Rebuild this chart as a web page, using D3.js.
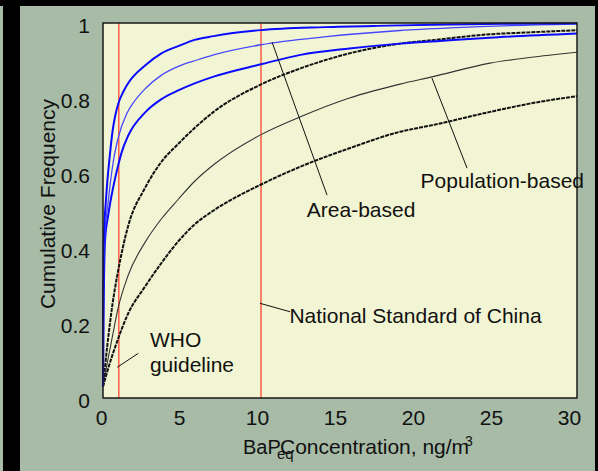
<!DOCTYPE html>
<meta charset="utf-8">
<style>
body { margin: 0; }
text { font-family: "Liberation Sans", Arial, sans-serif; fill: #111; }
.axis path { display: none; }
</style>
<svg width="598" height="471"></svg>
<script src="https://d3js.org/d3.v7.min.js"></script>
<script>

// cumulative frequency curves, [BaPeq ng/m3, fraction]
var areaHigh = [[0,0.03],[0.02,0.3],[0.05,0.42],[0.19,0.53],[0.44,0.65],[0.6,0.71],[0.76,0.75],[0.97,0.785],[1.3,0.818],[1.6,0.84],[2.7,0.888],[3.7,0.919],[4.8,0.939],[5.8,0.955],[7,0.965],[10,0.981],[14,0.989],[18,0.993],[22,0.996],[26,0.998],[30,0.999]];
var areaMid = [[0,0.03],[0.03,0.3],[0.1,0.42],[0.34,0.528],[0.65,0.63],[0.97,0.695],[1.5,0.758],[2,0.792],[2.7,0.826],[3.7,0.861],[4.8,0.885],[6,0.902],[7,0.915],[10,0.942],[14,0.963],[18.8,0.98],[22,0.987],[27.5,0.995],[30,0.997]];
var areaLow = [[0,0.03],[0.03,0.2],[0.13,0.42],[0.34,0.49],[0.65,0.563],[0.97,0.622],[1.18,0.655],[1.6,0.7],[2.7,0.763],[3.7,0.797],[4.8,0.821],[5.8,0.839],[7,0.857],[10,0.89],[12.5,0.915],[15.6,0.932],[18.8,0.945],[21.3,0.952],[25,0.962],[30,0.972]];
var popHigh = [[0,0.03],[0.3,0.15],[0.6,0.25],[0.93,0.333],[1.6,0.46],[2.66,0.56],[3.7,0.63],[4.77,0.678],[5.8,0.72],[7,0.763],[9.94,0.835],[12.5,0.879],[15.6,0.919],[18.8,0.945],[21,0.955],[24.5,0.97],[27,0.975],[30,0.981]];
var popMid = [[0,0.03],[0.3,0.1],[0.6,0.165],[0.93,0.235],[1.6,0.328],[2.66,0.415],[3.7,0.478],[4.77,0.53],[5.8,0.578],[7,0.622],[9.94,0.701],[12.5,0.75],[15.6,0.8],[18.8,0.837],[20.9,0.857],[24.5,0.893],[27,0.908],[30,0.922]];
var popLow = [[0,0.03],[0.3,0.075],[0.6,0.115],[0.93,0.155],[1.6,0.226],[2.66,0.297],[3.7,0.36],[4.77,0.418],[5.8,0.463],[7,0.5],[9.94,0.568],[12.5,0.617],[15.6,0.666],[18.8,0.71],[20.9,0.728],[24.5,0.763],[27,0.785],[30,0.805]];

var guidelines = [1, 10];   // WHO, National Standard of China
var xTicks = [0, 5, 10, 15, 20, 25, 30];
var yTicks = [0, 0.2, 0.4, 0.6, 0.8, 1];

// label text, text anchor point, leader line (data units)
var labels = [
  {lines: ["Area-based"], at: [12.9, 0.483], lead: [[10.7, 0.949], [14.18, 0.541]]},
  {lines: ["Population-based"], at: [20.1, 0.559], lead: [[20.82, 0.853], [23.04, 0.613]]},
  {lines: ["WHO", "guideline"], at: [2.97, 0.136], lead: [[0.9, 0.082], [2.23, 0.119]]},
  {lines: ["National Standard of China"], at: [11.8, 0.199], lead: [[9.94, 0.2525], [11.84, 0.23]]}
];

var svg = d3.select("svg");

var x = d3.scaleLinear().domain([0, 30]).range([103, 577]),
    y = d3.scaleLinear().domain([0, 1]).range([398, 23]);
// tick labels in the source sit a little left of the true positions
var xLab = d3.scaleLinear().domain([0, 30]).range([101, 569]);

// backdrop
svg.append("rect").attr("width", 598).attr("height", 471).attr("fill", "#a7bba7");
svg.append("rect").attr("width", 598).attr("height", 6).attr("fill", "#000");
svg.append("rect").attr("x", 3).attr("width", 17).attr("height", 471).attr("fill", "#000");
svg.append("rect").attr("x", 595).attr("width", 3).attr("height", 471).attr("fill", "#000");

svg.append("rect")
    .attr("x", x(0)).attr("y", y(1))
    .attr("width", x(30) - x(0)).attr("height", y(0) - y(1))
    .attr("fill", "#f2f5d3");

// guideline verticals
svg.selectAll(".guide")
    .data(guidelines)
  .enter().append("line")
    .attr("class", "guide")
    .attr("x1", x).attr("x2", x)
    .attr("y1", y(0)).attr("y2", y(1))
    .attr("stroke", "#ff5a48")
    .attr("stroke-width", 1.5);

var line = d3.line()
    .x(function(d) { return x(d[0]); })
    .y(function(d) { return y(d[1]); })
    .curve(d3.curveMonotoneX);

var series = [
  {data: popLow, color: "#111", width: 2, dash: "4,1"},
  {data: popMid, color: "#333", width: 1.1, dash: null},
  {data: popHigh, color: "#111", width: 2, dash: "4,1"},
  {data: areaLow, color: "#0a0aff", width: 2, dash: null},
  {data: areaMid, color: "#4646ff", width: 1.3, dash: null},
  {data: areaHigh, color: "#0a0aff", width: 2, dash: null}
];

svg.append("g").selectAll("path")
    .data(series)
  .enter().append("path")
    .attr("fill", "none")
    .attr("stroke", function(d) { return d.color; })
    .attr("stroke-width", function(d) { return d.width; })
    .attr("stroke-dasharray", function(d) { return d.dash; })
    .attr("d", function(d) { return line(d.data); });

// frame
svg.append("rect")
    .attr("x", x(0)).attr("y", y(1))
    .attr("width", x(30) - x(0)).attr("height", y(0) - y(1))
    .attr("fill", "none")
    .attr("stroke", "#1a1a1a")
    .attr("stroke-width", 1.5);

// axes
var gx = svg.append("g")
    .attr("class", "axis")
    .attr("transform", "translate(0," + y(0) + ")")
    .call(d3.axisBottom(xLab).tickValues(xTicks).tickSize(0).tickPadding(12).tickFormat(d3.format("d")));

var gy = svg.append("g")
    .attr("class", "axis")
    .attr("transform", "translate(" + x(0) + ",0)")
    .call(d3.axisLeft(y).tickValues(yTicks).tickSize(0).tickPadding(13).tickFormat(function(d) { return d === 0 || d === 1 ? d : d3.format(".1f")(d); }));

svg.selectAll(".axis text")
    .attr("font-size", 21)
    .attr("font-family", "'Liberation Sans', Arial, sans-serif")
    .attr("fill", "#111");
gy.selectAll("text").attr("dy", "0.45em");

// annotations
var ann = svg.append("g").selectAll("g")
    .data(labels)
  .enter().append("g");

ann.append("line")
    .attr("x1", function(d) { return x(d.lead[0][0]); })
    .attr("y1", function(d) { return y(d.lead[0][1]); })
    .attr("x2", function(d) { return x(d.lead[1][0]); })
    .attr("y2", function(d) { return y(d.lead[1][1]); })
    .attr("stroke", "#111")
    .attr("stroke-width", 1);

ann.each(function(d) {
  var t = d3.select(this).append("text")
      .attr("font-size", 21)
      .attr("x", x(d.at[0]))
      .attr("y", y(d.at[1]));
  t.selectAll("tspan")
      .data(d.lines)
    .enter().append("tspan")
      .attr("x", x(d.at[0]))
      .attr("dy", function(s, i) { return i ? 25 : 0; })
      .text(function(s) { return s; });
});

// axis titles
svg.append("text")
    .attr("transform", "translate(55,204) rotate(-90)")
    .attr("text-anchor", "middle")
    .attr("font-size", 21)
    .text("Cumulative Frequency");

svg.append("text").attr("x", 243).attr("y", 454).attr("font-size", 20).text("BaP");
svg.append("text").attr("x", 277).attr("y", 459).attr("font-size", 15).text("eq");
svg.append("text").attr("x", 280).attr("y", 454).attr("font-size", 21).text("Concentration, ng/m");
svg.append("text").attr("x", 465).attr("y", 446).attr("font-size", 14).text("3");

</script>
